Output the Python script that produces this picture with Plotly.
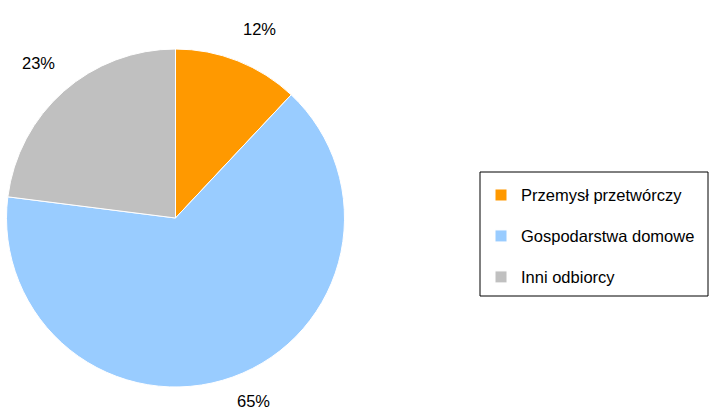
import math
import plotly.graph_objects as go

# Data
categories = ["Przemysł przetwórczy", "Gospodarstwa domowe", "Inni odbiorcy"]
values = [12, 65, 23]
colors = ["#FF9900", "#99CCFF", "#C0C0C0"]

W, H = 709, 412
cx, cy, R = 175.5, 218.0, 169.0   # pie centre/radius in px (layout)
lab_a, lab_b = 181, 192           # label distances (horizontal / vertical)
lab_cy = cy - 4
half_w, half_h = 17, 6.5          # approx half size of a label box

FONT = "Liberation Sans, Arial, sans-serif"
TXT = 16.5

# legend labels: text at 16.5px, extra blank line for row spacing
legend_labels = [f"<span style='font-size:{TXT}px'>{c}</span><br>&nbsp;" for c in categories]

fig = go.Figure(
    go.Pie(
        labels=legend_labels,
        values=values,
        sort=False,
        direction="clockwise",
        rotation=0,
        marker=dict(colors=colors, line=dict(color="white", width=1)),
        textinfo="none",
        hoverinfo="label+percent",
        domain=dict(x=[(cx - R) / W, (cx + R) / W],
                    y=[(H - cy - R) / H, (H - cy + R) / H]),
    )
)

# percentage labels placed outside, at each slice's mid-angle
total = sum(values)
cum = 0
annotations = []
for v in values:
    mid = (cum + v / 2) / total * 2 * math.pi
    cum += v
    s, c = math.sin(mid), math.cos(mid)
    px = cx + lab_a * s + half_w * (1 if s >= 0 else -1)
    py = lab_cy - lab_b * c - half_h * (1 if c >= 0 else -1)
    annotations.append(dict(
        x=px / W, y=(H - py) / H, xref="paper", yref="paper",
        text=f"{round(v / total * 100)}%", showarrow=False,
        font=dict(family=FONT, size=TXT, color="#000000"),
        xanchor="center", yanchor="middle",
    ))

# legend frame
box = dict(x0=480, x1=708, y0=172, y1=296)

fig.update_layout(
    width=W, height=H,
    margin=dict(l=0, r=0, t=0, b=0),
    paper_bgcolor="white",
    plot_bgcolor="white",
    font=dict(family=FONT, size=TXT, color="#000000"),
    annotations=annotations,
    shapes=[dict(type="rect", xref="paper", yref="paper",
                 x0=box["x0"] / W, x1=box["x1"] / W,
                 y0=(H - box["y1"]) / H, y1=(H - box["y0"]) / H,
                 line=dict(color="#000000", width=1), fillcolor="rgba(0,0,0,0)")],
    showlegend=True,
    legend=dict(
        x=481 / W, y=(H - 179) / H, xanchor="left", yanchor="top",
        bgcolor="rgba(0,0,0,0)", borderwidth=0,
        font=dict(family=FONT, size=14.6, color="#000000"),
        valign="top",
        entrywidth=190,
    ),
)

fig.write_html("out.html")
